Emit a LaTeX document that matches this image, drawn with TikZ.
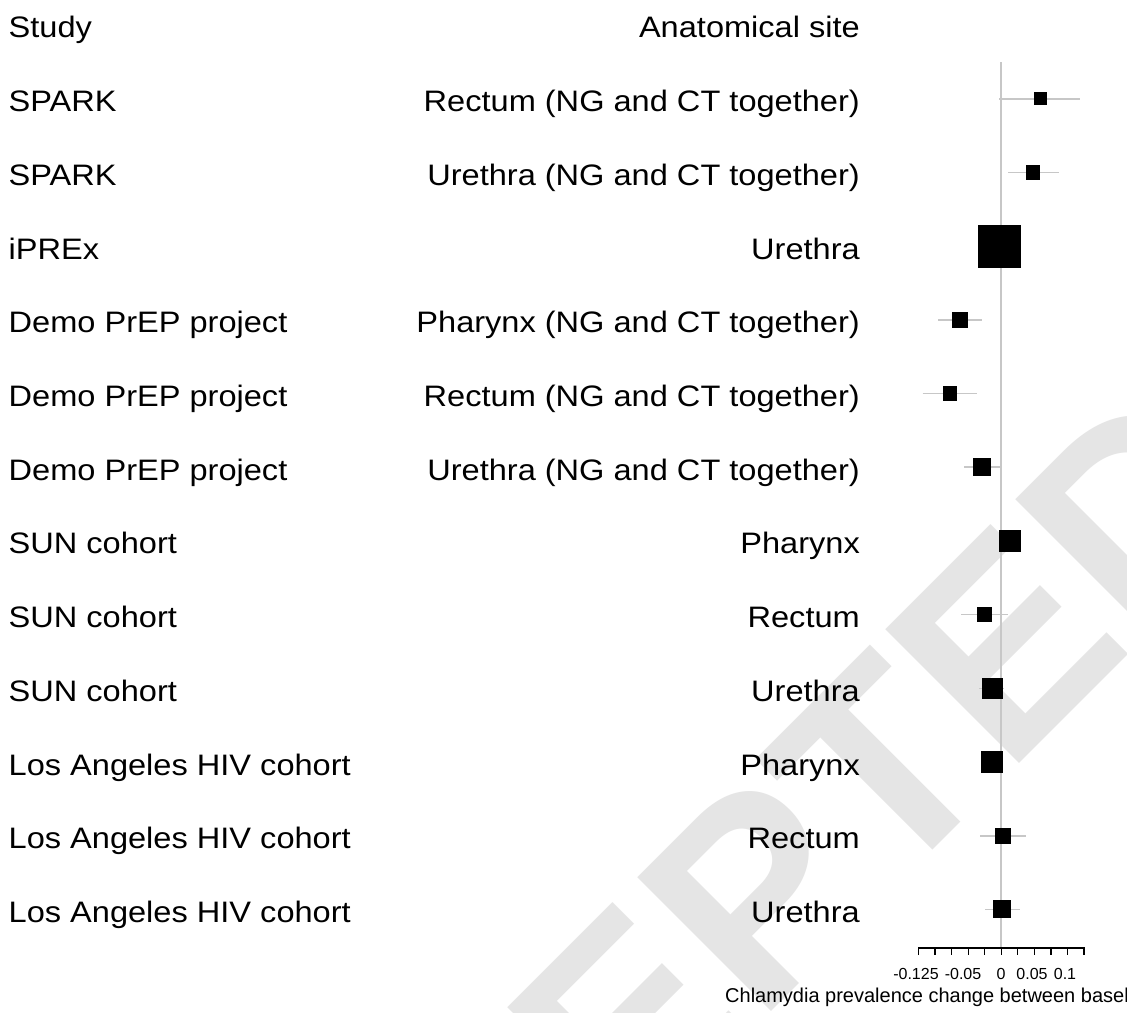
\documentclass[tikz,border=0pt]{standalone}
\usepackage{fontspec}
\setmainfont{Liberation Sans}
\newfontfamily\rowfamily[FakeStretch=1.1]{Liberation Sans}
\usepackage{tikz}
\newcommand{\labsize}{\rowfamily\fontsize{29.6}{36}\selectfont}
\newcommand{\ticksize}{\fontsize{16}{19}\selectfont}
\newcommand{\marksize}{\fontsize{275}{275}\bfseries\selectfont}
\definecolor{markgray}{gray}{0.9}
\definecolor{cigray}{gray}{0.78}

\begin{document}
\begin{tikzpicture}[x=1pt,y=-1pt,
    study/.style={anchor=base west, inner sep=0pt, font=\labsize},
    site/.style={anchor=base east, inner sep=0pt, font=\labsize},
    est/.style={fill=black, inner sep=0pt, minimum size=#1},
    ci/.style={cigray, line width=1.6pt},
    ticklab/.style={anchor=base, inner sep=0pt, font=\ticksize}]
\useasboundingbox (0,0) rectangle (1127,1012);
\fill[white] (0,0) rectangle (1127,1012);
\clip (0,0) rectangle (1127,1012);
    % watermark
\node (wm) at (1277,506) [anchor=base east, rotate=45, inner sep=0pt, text=markgray, font=\marksize] {ACCEPTED};

    % column heads
\node (study) at (8.5,37.5) [study] {Study};
\node (site) at (860,37.5) [site] {Anatomical site};

\node (st1) at (8.5,111.7) [study] {SPARK};
\node (st2) at (8.5,185.4) [study] {SPARK};
\node (st3) at (8.5,259.1) [study] {iPREx};
\node (st4) at (8.5,332.8) [study] {Demo PrEP project};
\node (st5) at (8.5,406.5) [study] {Demo PrEP project};
\node (st6) at (8.5,480.2) [study] {Demo PrEP project};
\node (st7) at (8.5,553.9) [study] {SUN cohort};
\node (st8) at (8.5,627.6) [study] {SUN cohort};
\node (st9) at (8.5,701.3) [study] {SUN cohort};
\node (st10) at (8.5,775) [study] {Los Angeles HIV cohort};
\node (st11) at (8.5,848.7) [study] {Los Angeles HIV cohort};
\node (st12) at (8.5,922.4) [study] {Los Angeles HIV cohort};

\node (si1) at (860,111.7) [site] {Rectum (NG and CT together)};
\node (si2) at (860,185.4) [site] {Urethra (NG and CT together)};
\node (si3) at (860,259.1) [site] {Urethra};
\node (si4) at (860,332.8) [site] {Pharynx (NG and CT together)};
\node (si5) at (860,406.5) [site] {Rectum (NG and CT together)};
\node (si6) at (860,480.2) [site] {Urethra (NG and CT together)};
\node (si7) at (860,553.9) [site] {Pharynx};
\node (si8) at (860,627.6) [site] {Rectum};
\node (si9) at (860,701.3) [site] {Urethra};
\node (si10) at (860,775) [site] {Pharynx};
\node (si11) at (860,848.7) [site] {Rectum};
\node (si12) at (860,922.4) [site] {Urethra};

    % line of no change
\draw[ci] (1000.7,62) -- (1000.7,948);

    % confidence intervals
\draw[ci] (999,98.7) -- (1080,98.7);
\draw[ci] (1008,172.4) -- (1059,172.4);
\draw[ci] (938,319.8) -- (982,319.8);
\draw[ci] (922.7,393.5) -- (977,393.5);
\draw[ci] (964,467.2) -- (1000,467.2);
\draw[ci] (961,614.6) -- (1008,614.6);
\draw[ci] (979,688.3) -- (1004,688.3);
\draw[ci] (980,835.7) -- (1025.7,835.7);
\draw[ci] (985,909.4) -- (1020,909.4);

    % estimates
\node (e1) at (1040,98.7) [est=13pt] {};
\node (e2) at (1033,172.4) [est=14.7pt] {};
\node (e3) at (999.5,246.1) [est=43pt] {};
\node (e4) at (960,319.8) [est=16pt] {};
\node (e5) at (950,393.5) [est=14.7pt] {};
\node (e6) at (982,467.2) [est=17.5pt] {};
\node (e7) at (1010,540.9) [est=22pt] {};
\node (e8) at (984.6,614.6) [est=15.7pt] {};
\node (e9) at (992,688.3) [est=21pt] {};
\node (e10) at (991.7,762) [est=22pt] {};
\node (e11) at (1003,835.7) [est=15.7pt] {};
\node (e12) at (1002,909.4) [est=18pt] {};

    % axis
\draw[line width=1.3pt] (918.5,955) -- (918.5,948) -- (1084,948) -- (1084,955);
\foreach \k in {1,...,9}
  \draw[line width=1.3pt] (918.5+16.55*\k,948) -- ++(0,7);
\node (t1) at (916,979.7) [ticklab] {-0.125};
\node (t2) at (963,979.7) [ticklab] {-0.05};
\node (t3) at (1001,979.7) [ticklab] {0};
\node (t4) at (1032,979.7) [ticklab] {0.05};
\node (t5) at (1065,979.7) [ticklab] {0.1};
\node (xlab) at (725,1002) [anchor=base west, inner sep=0pt, font=\fontsize{20}{24}\selectfont] {Chlamydia prevalence change between basel};

\end{tikzpicture}
\end{document}
